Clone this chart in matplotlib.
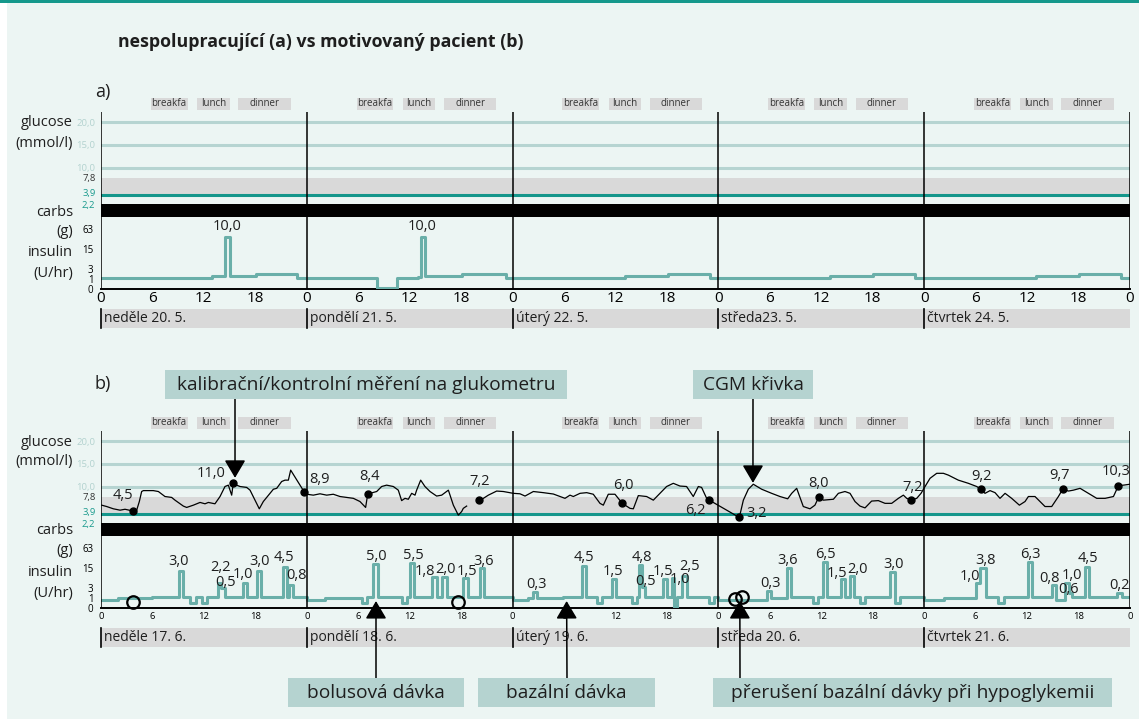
import numpy as np
import matplotlib.pyplot as plt
from matplotlib.patches import Rectangle
from matplotlib.transforms import ScaledTranslation

W, H = 1139, 719
plt.rcParams['font.family'] = ['Open Sans', 'DejaVu Sans']

MINT = '#ecf5f3'
GRID = '#b6d4d1'
TEAL = '#14968b'
BAND = '#d9d9d9'
INS = '#6aafa9'
BOX = '#b5d3d0'
DARK = '#1e1e1e'

# ---------------- data ----------------
day_starts = [0, 24, 48, 72, 96]
days_a = ['neděle 20. 5.', 'pondělí 21. 5.', 'úterý 22. 5.', 'středa23. 5.', 'čtvrtek 24. 5.']
days_b = ['neděle 17. 6.', 'pondělí 18. 6.', 'úterý 19. 6.', 'středa 20. 6.', 'čtvrtek 21. 6.']
meals = ['breakfa', 'lunch', 'dinner']
meal_start = [5.8, 11.2, 16.0]
meal_end = [10.1, 15.0, 22.1]

hour_ticks = list(range(0, 121, 6))
hour_labels = ['0', '6', '12', '18'] * 5 + ['0']

gluc_ticks = [2.2, 3.9, 7.8, 10, 15, 20]
gluc_labels = ['2,2', '3,9', '7,8', '10,0', '15,0', '20,0']
gluc_label_colors = ['#1a9a8d', '#1a9a8d', '#333333', '#b3d2cf', '#b3d2cf', '#b3d2cf']
ins_ticks = [0, 1, 3, 15, 63]

# panel a: insulin delivery (step start hour, U/hr)
ins_a_t = [0, 13.0, 14.45, 15.05, 18.05, 22.9, 32.2, 34.56, 37.0, 37.28, 37.78, 42.06,
           47.23, 61.1, 66.16, 71.0, 85.0, 90.06, 94.93, 109.04, 114.1, 119.0, 120]
ins_a_v = [1.1, 1.45, 36, 1.45, 1.75, 1.1, 0.05, 1.1, 1.3, 36, 1.45, 1.75,
           1.1, 1.45, 1.75, 1.1, 1.45, 1.75, 1.1, 1.45, 1.75, 1.1, 1.1]
bolus_a_t = [14.66, 37.47]
bolus_a_lbl = ['10,0', '10,0']

# panel b: CGM curve (hour, mmol/l); nan = gap in the sensor record
cgm_t = [0.08, 0.66, 1.44, 2.22, 2.80, 3.77, 4.16, 4.47, 4.74, 4.94, 6.10, 6.69, 7.46, 8.24,
         8.63, 9.60, 9.99, 10.77, 11.55, 12.13, 12.52, 13.29, 13.88, 14.46, 14.85, 15.24,
         15.43, 15.82, 16.21, 16.99, 17.38, 17.96, 18.46, 18.93, 19.71, 20.10, 20.49, 21.07,
         21.46, 21.85, 22.12, 23.67,
         24.0, 24.76, 25.54, 26.32, 27.09, 27.87, 28.65, 29.43, 30.20, 30.86, 31.10, 31.57,
         32.15, 32.73, 33.31, 34.09, 34.67, 35.06, 35.45, 35.84, 36.23, 36.62, 36.81, 37.28,
         37.78, 38.37, 39.14, 39.73, 40.51, 41.09, 41.67, 42.06, 42.25, 42.64, np.nan,
         44.08, 44.59, 45.17, 46.14, 46.92, 48.09,
         48.86, 49.45, 50.42, 51.58, 52.75, 54.11, 54.69, 55.08, 55.86, 56.64, 57.41, 58.19,
         58.58, 59.16, 59.94, 60.79, 61.69, 62.08, 62.66, 63.63, 64.41, 65.96, 66.74, 67.52,
         68.29, 69.07, 69.66, 70.04, 70.63, 70.94,
         74.44, 74.91, 75.49, 76.07, 77.05, 78.21, 79.18, 80.08, 80.55, 81.13, 81.90, 82.68,
         83.26, 83.73, 84.24, 85.41, 85.99, 86.76, 87.35, 87.93, 88.51, 89.10, 89.87, 90.65,
         91.43, 92.21, 92.99, 93.57, 93.96, 94.46, 95.13, 95.63,
         96.10, 96.68, 97.46, 98.24, 98.82, 99.98, 101.15, 102.12, 102.63, 103.09, 103.68,
         104.26, 104.84, 105.43, 106.20, 107.10, 107.76, 108.15, 108.92, 109.51, 110.09,
         110.87, 111.65, 112.15, 112.82, 113.40, 114.18, 115.15, 116.12, 117.10, 118.07,
         118.65, 119.24, 120.0]
cgm_g = [5.9, 5.6, 5.1, 4.8, 5.0, 4.6, 4.8, 6.7, 8.9, 9.1, 9.1, 8.9, 7.8, 7.6,
         7.0, 5.7, 5.4, 5.9, 6.5, 6.2, 6.5, 6.2, 7.8, 10.0, 10.3, 8.1,
         10.8, 10.3, 10.0, 9.8, 9.2, 7.0, 5.1, 6.7, 8.5, 9.4, 9.6, 11.1,
         11.4, 11.4, 13.6, 8.9,
         8.3, 8.1, 8.4, 8.1, 8.3, 7.8, 7.6, 7.4, 6.7, 5.4, 8.3, 8.6,
         8.9, 10.0, 10.3, 10.0, 9.2, 6.9, 7.4, 7.2, 8.5, 8.1, 9.2, 11.4,
         10.0, 8.9, 7.9, 8.1, 9.2, 5.9, 3.7, 4.5, 5.2, 5.7, np.nan,
         7.0, 7.4, 8.1, 9.0, 8.9, 8.5,
         8.4, 7.9, 8.9, 8.65, 8.35, 7.4, 8.1, 7.8, 8.5, 8.65, 8.3, 6.3,
         5.9, 8.3, 8.3, 6.3, 5.2, 5.1, 8.0, 7.8, 7.0, 10.0, 10.7, 10.1,
         10.0, 7.8, 10.0, 9.8, 7.4, 7.0,
         3.2, 7.0, 9.4, 10.5, 9.4, 8.5, 7.8, 7.3, 8.5, 9.6, 5.6, 5.1,
         5.9, 7.8, 7.0, 7.2, 8.5, 8.9, 8.5, 6.7, 5.7, 5.3, 6.8, 6.9,
         6.3, 6.3, 7.4, 8.1, 7.4, 7.0, 7.4, 8.5,
         10.0, 11.8, 12.9, 12.9, 12.5, 11.4, 10.7, 10.0, 9.4, 8.5, 9.1,
         8.65, 7.4, 8.5, 7.4, 5.9, 6.7, 7.8, 7.8, 6.7, 5.6,
         5.6, 7.8, 9.4, 9.0, 9.2, 9.6, 8.5, 7.4, 7.4, 7.8,
         10.2, 10.3, 10.5]

# panel b: glucometer readings
meter_t = [3.77, 15.43, 23.67, 31.10, 44.08, 60.79, 70.94, 74.44, 83.73, 94.46, 102.63, 112.15, 118.65]
meter_g = [4.6, 10.8, 8.9, 8.3, 7.0, 6.3, 7.0, 3.2, 7.8, 7.0, 9.4, 9.4, 10.2]
meter_lbl = ['4,5', '11,0', '8,9', '8,4', '7,2', '6,0', '6,2', '3,2', '8,0', '7,2', '9,2', '9,7', '10,3']

# panel b: insulin delivery (step start hour, U/hr)
ins_b_t = [0, 2.0, 6.0, 9.1, 9.6, 10.38, 11.04, 11.74, 12.40, 13.68, 13.96, 14.46, 16.52, 16.99,
           18.15, 18.66, 21.19, 21.65, 21.96, 22.43,
           24.0, 26.12, 30.40, 30.98, 31.76, 32.26, 35.06, 35.65, 36.04, 36.50, 38.64, 39.14,
           39.73, 40.31, 42.25, 42.84, 44.20, 44.66,
           48.0, 49.83, 50.34, 50.89, 53.84, 56.06, 56.56, 57.81, 58.40, 59.55, 60.06, 61.88,
           62.47, 62.78, 63.05, 63.44, 65.58, 66.04, 66.63, 66.86, 67.13, 67.71, 68.30, 70.94,
           71.52,
           72.0, 77.70, 78.15, 79.96, 80.43, 83.0, 83.6, 84.24, 84.70, 86.28, 86.76, 87.38,
           87.85, 88.51, 89.15, 92.05, 92.63, 93.17,
           96.0, 98.3, 102.05, 102.55, 103.15, 104.65, 105.31, 108.1, 108.57, 110.86, 111.37,
           112.42, 112.92, 113.2, 114.75, 115.22, 118.52, 119.03, 120.0]
ins_b_v = [0.75, 0.95, 1.15, 12.0, 1.15, 0.38, 1.15, 0.38, 1.15, 4.5, 2.9, 1.15, 4.5, 1.15,
           12.0, 1.15, 16.5, 1.15, 3.9, 1.15,
           0.75, 0.95, 0.38, 1.15, 19.9, 1.15, 0.38, 1.15, 21.1, 1.15, 7.8, 1.15,
           7.8, 1.15, 6.8, 1.15, 14.6, 1.15,
           0.75, 0.95, 2.1, 0.95, 1.15, 17.0, 1.15, 0.38, 1.15, 6.5, 1.15, 0.45,
           1.15, 18.7, 3.4, 1.15, 6.3, 1.15, 7.0, 0.08, 1.15, 8.0, 1.15, 0.38,
           1.15,
           0.75, 2.2, 0.95, 14.6, 1.15, 0.38, 1.15, 23.8, 1.15, 6.3, 1.15, 8.2,
           1.15, 0.38, 1.15, 11.4, 0.38, 1.15,
           0.75, 0.95, 4.5, 15.0, 1.15, 0.38, 1.15, 23.8, 1.15, 3.9, 0.75,
           4.5, 1.9, 1.15, 16.5, 1.15, 1.8, 1.15, 1.15]

# bolus doses (U) written above the spikes: hour, label level, text
dose_t = [9.1, 13.88, 14.58, 16.52, 18.46, 21.38, 22.82,
          32.07, 36.42, 37.78, 40.12, 42.64, 44.59,
          50.73, 56.33, 59.67, 63.05, 63.52, 65.58, 67.52, 68.69,
          78.02, 80.04, 84.53, 85.87, 88.2, 92.4,
          101.34, 103.2, 108.34, 110.6, 113.2, 112.8, 115.1, 118.83]
dose_v = [23.8, 16.0, 4.9, 8.85, 23.8, 32.6, 8.4,
          34.0, 35.8, 11.4, 13.6, 11.4, 23.8,
          4.2, 32.6, 11.4, 32.6, 5.2, 11.4, 6.0, 16.5,
          4.3, 25.0, 41.2, 10.1, 13.6, 20.1,
          7.8, 25.0, 41.2, 6.5, 8.4, 2.65, 30.3, 3.9]
dose_lbl = ['3,0', '2,2', '0,5', '1,0', '3,0', '4,5', '0,8',
            '5,0', '5,5', '1,8', '2,0', '1,5', '3,6',
            '0,3', '4,5', '1,5', '4,8', '0,5', '1,5', '1,0', '2,5',
            '0,3', '3,6', '6,5', '1,5', '2,0', '3,0',
            '1,0', '3,8', '6,3', '0,8', '1,0', '0,6', '4,5', '0,2']

# marked basal moments (open circles)
circle_t = [3.77, 41.67, 73.9, 74.7]
circle_v = [0.55, 0.55, 0.83, 1.15]


# ---------------- helpers ----------------
def px_axes(fig, x0, y0, x1, y1):
    ax = fig.add_axes([x0 / W, 1 - y1 / H, (x1 - x0) / W, (y1 - y0) / H])
    ax.set_facecolor('none')
    return ax


def fig_rect(fig, x0, y0, x1, y1, color, z=1):
    fig.add_artist(Rectangle((x0 / W, 1 - y1 / H), (x1 - x0) / W, (y1 - y0) / H,
                             transform=fig.transFigure, color=color, lw=0, zorder=z))


def ins_fwd(v):
    return np.log2(1 + np.clip(v, 0, None))


def ins_inv(f):
    return 2.0 ** f - 1


def draw_panel(fig, dy, dates, small):
    ax_g = px_axes(fig, 101, 112 + dy, 1130, 204 + dy)
    ax_i = px_axes(fig, 101, 217 + dy, 1130, 289 + dy)
    fig_rect(fig, 101, 204 + dy, 1130, 217 + dy, 'black', z=-1)

    for ax in (ax_g, ax_i):
        ax.set_xlim(0, 120)
        for s in ax.spines.values():
            s.set_visible(False)
        for d in day_starts + [120]:
            ax.axvline(d, color='black', lw=1.1, zorder=5)
        ax.tick_params(length=0)

    # glucose frame
    ax_g.set_ylim(1.98, 22.2)
    ax_g.axhspan(3.9, 7.8, color=BAND, lw=0, zorder=1)
    for g in (10, 15, 20):
        ax_g.axhline(g, color=GRID, lw=2.2, zorder=2)
    ax_g.axhline(3.9, color=TEAL, lw=2.2, zorder=2)
    ax_g.set_xticks([])
    ax_g.set_yticks(gluc_ticks, gluc_labels)
    ax_g.tick_params(axis='y', pad=4.0, labelsize=6.8)
    # the two lowest labels sit close together: nudge them apart a little
    nudges = [-1.0, 1.8, 0, 0, 0, 0]
    for lab, c, n in zip(ax_g.get_yticklabels(), gluc_label_colors, nudges):
        lab.set_color(c)
        if n:
            lab.set_transform(lab.get_transform() + ScaledTranslation(0, n / 72, fig.dpi_scale_trans))

    # meal boxes
    tr = ax_g.get_xaxis_transform()
    for d in day_starts:
        for name, s, e in zip(meals, meal_start, meal_end):
            ax_g.add_patch(Rectangle((d + s, 1.0217), e - s, 0.1304, transform=tr,
                                     color=BAND, lw=0, clip_on=False))
            ax_g.text(d + (s + e) / 2, 1.087, name, transform=tr, ha='center', va='center',
                      fontsize=7, color='#333333')

    # insulin frame
    ax_i.set_yscale('function', functions=(ins_fwd, ins_inv))
    ax_i.set_ylim(0, 146)
    ax_i.minorticks_off()
    ax_i.set_yticks(ins_ticks, [str(v) for v in ins_ticks])
    ax_i.tick_params(axis='y', pad=5.5, labelsize=7, length=0)
    ax_i.spines['bottom'].set_visible(True)
    ax_i.spines['bottom'].set_linewidth(1.4)
    ax_i.set_xticks(hour_ticks, hour_labels)
    if small:
        ax_i.tick_params(axis='x', labelsize=6.8, pad=3.0)
    else:
        ax_i.tick_params(axis='x', labelsize=11, pad=1.2)

    # date bar
    tr = ax_i.get_xaxis_transform()
    ax_i.add_patch(Rectangle((0, -0.5417), 120, 0.2639, transform=tr, color=BAND, lw=0,
                             clip_on=False))
    for d, name in zip(day_starts, dates):
        ax_i.plot([d, d], [-0.5417, -0.2778], transform=tr, color='black', lw=1.2, clip_on=False)
        ax_i.text(d + 0.35, -0.41, name, transform=tr, ha='left', va='center', fontsize=10,
                  color=DARK)

    # left labels
    for txt, y in [('glucose', 123), ('(mmol/l)', 143), ('carbs', 212), ('(g)', 232),
                   ('insulin', 253), ('(U/hr)', 274)]:
        fig.text(73 / W, 1 - (y + dy) / H, txt, ha='right', va='center', fontsize=10.5, color=DARK)
    return ax_g, ax_i


# ---------------- figure ----------------
fig = plt.figure(figsize=(W / 100, H / 100), dpi=100)
fig.patch.set_facecolor(MINT)
fig_rect(fig, 0, 0, 7, H, 'white', z=-2)
fig_rect(fig, 0, 0, W, 3, '#14988b', z=-2)

fig.text(118 / W, 1 - 42 / H, 'nespolupracující (a) vs motivovaný pacient (b)',
         fontsize=12.8, fontweight='bold', ha='left', va='center', color=DARK)
fig.text(95 / W, 1 - 92 / H, 'a)', fontsize=13, ha='left', va='center', color=DARK)
fig.text(95 / W, 1 - 384 / H, 'b)', fontsize=13, ha='left', va='center', color=DARK)

# panel a
ga, ia = draw_panel(fig, 0, days_a, small=False)
ia.step(ins_a_t, ins_a_v, where='post', color=INS, lw=2.2, zorder=3)
for t, lbl in zip(bolus_a_t, bolus_a_lbl):
    ia.text(t, 74, lbl, ha='center', va='center', fontsize=10.5, color=DARK)

# panel b
gb, ib = draw_panel(fig, 319, days_b, small=True)
gb.plot(cgm_t, cgm_g, color='black', lw=0.9, zorder=4)
gb.plot(meter_t, meter_g, 'o', color='black', ms=5, zorder=6, clip_on=False)
label_offsets = [(-10, 16), (-22, 9), (16, 12), (2, 18), (1, 19), (1, 18), (-14, -10),
                 (17, 4), (0, 13), (2, 13), (0, 13), (-3, 14), (-2, 14)]
for t, g, lbl, (ox, oy) in zip(meter_t, meter_g, meter_lbl, label_offsets):
    gb.annotate(lbl, (t, g), xytext=(ox * 0.72, oy * 0.72), textcoords='offset points',
                ha='center', va='center', fontsize=10.5, color=DARK, zorder=7)

ib.step(ins_b_t, ins_b_v, where='post', color=INS, lw=2.2, zorder=3)
for t, v, lbl in zip(dose_t, dose_v, dose_lbl):
    ib.text(t, v, lbl, ha='center', va='center', fontsize=10.5, color=DARK, zorder=6)
ib.plot(circle_t, circle_v, 'o', mfc='none', mec='black', ms=9, mew=1.6, zorder=6, clip_on=False)

# callouts
arrow = dict(arrowstyle='-|>,head_length=1.1,head_width=0.65', color='black', lw=1.1,
             shrinkA=0, shrinkB=0)
callouts = [
    ('kalibrační/kontrolní měření na glukometru', 165, 370, 567, 399),
    ('CGM křivka', 693, 370, 813, 399),
    ('bolusová dávka', 288, 678, 464, 707),
    ('bazální dávka', 478, 678, 655, 707),
    ('přerušení bazální dávky při hypoglykemii', 713, 678, 1112, 707),
]
for txt, x0, y0, x1, y1 in callouts:
    fig_rect(fig, x0, y0, x1, y1, BOX)
    fig.text((x0 + x1) / 2 / W, 1 - (y0 + y1) / 2 / H, txt, ha='center', va='center',
             fontsize=13.8, color=DARK)

gb.annotate('', xy=(15.63, 11.9), xytext=(235, H - 399), textcoords='figure pixels', arrowprops=arrow)
gb.annotate('', xy=(76.03, 10.8), xytext=(753, H - 399), textcoords='figure pixels', arrowprops=arrow)
for t, x in [(32.07, 376), (54.3, 567), (74.5, 740)]:
    ib.annotate('', xy=(t, 0.62), xytext=(x, H - 678), textcoords='figure pixels', arrowprops=arrow)

fig.savefig('out.png', dpi=100, facecolor=fig.get_facecolor())
